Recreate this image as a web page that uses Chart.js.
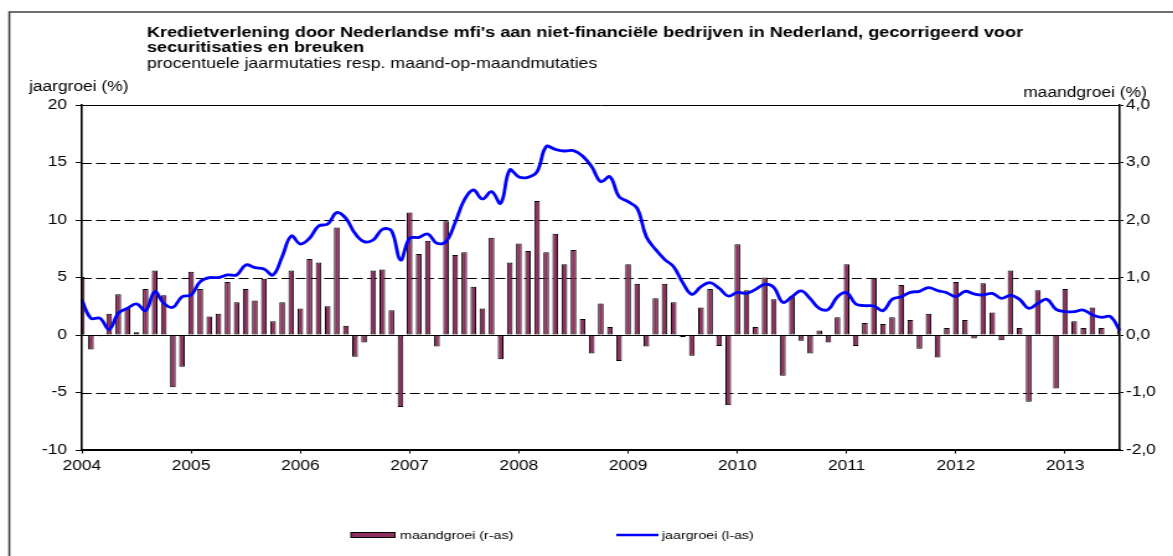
<!DOCTYPE html>
<html>
<head>
<meta charset="utf-8">
<script src="https://cdn.jsdelivr.net/npm/chart.js@4.4.0/dist/chart.umd.min.js"></script>
<style>
  html, body { margin: 0; padding: 0; background: #fff; overflow: hidden; }
  /* the reference picture is stretched horizontally, so the canvas is too */
  #wrap { position: absolute; left: 0; top: 0; width: 946px; height: 556px;
          transform: scaleX(1.24); transform-origin: 0 0; }
</style>
</head>
<body>
<div id="wrap"><canvas id="myChart" width="946" height="556"></canvas></div>
<script>
const titleLines = [
    "Kredietverlening door Nederlandse mfi's aan niet-financiële bedrijven in Nederland, gecorrigeerd voor",
    'securitisaties en breuken'
];
const subtitle = 'procentuele jaarmutaties resp. maand-op-maandmutaties';
const leftTitle = 'jaargroei (%)';
const rightTitle = 'maandgroei (%)';

// monthly categories, Jan 2004 .. Jul 2013
const startYear = 2004;
const months = Array.from({ length: 115 }, (_, i) =>
    (startYear + Math.floor(i / 12)) + '-' + String(i % 12 + 1).padStart(2, '0'));
const yearLabels = ['2004', '2005', '2006', '2007', '2008', '2009', '2010', '2011', '2012', '2013'];

// month-on-month growth (right axis)
const maandgroei = [
    1.01, -0.25, -0.02, 0.37, 0.71, 0.48, 0.05, 0.80, 1.12, 0.69, -0.91, -0.55,
    1.10, 0.80, 0.32, 0.37, 0.92, 0.57, 0.80, 0.60, 0.98, 0.24, 0.57, 1.12,
    0.46, 1.32, 1.26, 0.50, 1.87, 0.16, -0.38, -0.13, 1.12, 1.14, 0.43, -1.25,
    2.13, 1.41, 1.64, -0.20, 1.98, 1.39, 1.44, 0.84, 0.46, 1.69, -0.42, 1.26,
    1.59, 1.46, 2.33, 1.44, 1.76, 1.23, 1.48, 0.28, -0.32, 0.55, 0.14, -0.45,
    1.23, 0.89, -0.20, 0.64, 0.89, 0.57, -0.04, -0.36, 0.48, 0.80, -0.19, -1.22,
    1.58, 0.78, 0.14, 1.00, 0.62, -0.71, 0.67, -0.10, -0.32, 0.08, -0.13, 0.31,
    1.23, -0.19, 0.21, 0.99, 0.19, 0.31, 0.87, 0.26, -0.24, 0.37, -0.39, 0.12,
    0.92, 0.26, -0.06, 0.90, 0.39, -0.09, 1.12, 0.12, -1.16, 0.78, -0.02, -0.93,
    0.80, 0.24, 0.12, 0.48, 0.12, -0.02, 0.08
];

// year-on-year growth (left axis)
const jaargroei = [
    3.04, 1.45, 1.45, 0.49, 1.88, 2.32, 2.70, 2.12, 3.77, 2.75, 2.41, 3.33,
    3.48, 4.64, 4.99, 4.99, 5.22, 5.22, 6.09, 5.86, 5.74, 5.22, 6.81, 8.61,
    7.91, 8.41, 9.48, 9.65, 10.64, 10.14, 8.84, 8.12, 8.26, 9.19, 9.07, 6.52,
    8.41, 8.49, 8.78, 7.97, 8.12, 9.77, 11.74, 12.61, 11.83, 12.46, 11.45, 14.35,
    13.74, 13.71, 14.20, 16.38, 16.14, 16.00, 16.03, 15.57, 14.64, 13.33, 13.77, 12.03,
    11.59, 11.01, 8.55, 7.45, 6.58, 5.94, 4.55, 3.54, 4.20, 4.55, 4.06, 3.39,
    3.70, 3.62, 3.97, 4.41, 4.14, 2.84, 3.33, 3.83, 3.16, 2.32, 2.23, 3.33,
    3.68, 2.70, 2.55, 2.52, 2.12, 3.10, 3.33, 3.71, 3.80, 4.12, 3.86, 3.68,
    3.33, 3.80, 3.57, 3.48, 3.62, 3.19, 3.45, 3.10, 2.32, 2.75, 3.10, 2.23,
    2.03, 2.03, 2.17, 1.74, 1.54, 1.59, 0.38
];

const leftTicks = [-10, -5, 0, 5, 10, 15, 20];
const dashedAt = [-5, 5, 10, 15];

const barColor = '#8f2f5f';
const lineColor = '#0000ff';
const fontFamily = '"Liberation Sans", Arial, sans-serif';

Chart.defaults.font.family = fontFamily;
Chart.defaults.color = '#000';

const decorations = {
    id: 'decorations',
    beforeDraw(chart) {
        const ctx = chart.ctx;
        ctx.save();
        ctx.fillStyle = '#fff';
        ctx.fillRect(0, 0, chart.width, chart.height);
        ctx.restore();
    },
    beforeDatasetsDraw(chart) {
        const { ctx, chartArea: a, scales: { y } } = chart;
        ctx.save();
        ctx.strokeStyle = '#000';
        ctx.lineWidth = 1;
        ctx.setLineDash([8, 3.5]);
        dashedAt.forEach(v => {
            const py = Math.round(y.getPixelForValue(v)) + 0.5;
            ctx.beginPath();
            ctx.moveTo(a.left, py);
            ctx.lineTo(a.right, py);
            ctx.stroke();
        });
        ctx.setLineDash([]);
        [0, 20].forEach(v => {
            const py = Math.round(y.getPixelForValue(v)) + 0.5;
            ctx.beginPath();
            ctx.moveTo(a.left, py);
            ctx.lineTo(a.right, py);
            ctx.stroke();
        });
        ctx.restore();
    },
    afterDraw(chart) {
        const ctx = chart.ctx;
        ctx.save();
        ctx.fillStyle = '#000';
        ctx.textBaseline = 'alphabetic';
        ctx.font = 'bold 14.6px ' + fontFamily;
        ctx.fillText(titleLines[0], 118.5, 37);
        ctx.fillText(titleLines[1], 118.5, 51.5);
        ctx.font = '14.3px ' + fontFamily;
        ctx.fillText(subtitle, 118.5, 67.5);
        ctx.font = '14px ' + fontFamily;
        ctx.fillText(leftTitle, 23.4, 90.5);
        ctx.textAlign = 'right';
        ctx.fillText(rightTitle, 924.8, 96.5);

        // legend
        ctx.textAlign = 'left';
        ctx.textBaseline = 'middle';
        ctx.font = '11.5px ' + fontFamily;
        ctx.fillStyle = barColor;
        ctx.fillRect(283, 532.5, 35.5, 5);
        ctx.strokeStyle = '#000';
        ctx.lineWidth = 1;
        ctx.strokeRect(283, 532.5, 35.5, 5);
        ctx.fillStyle = '#000';
        ctx.fillText(chart.data.datasets[0].label, 322.6, 535.5);
        ctx.strokeStyle = lineColor;
        ctx.lineWidth = 2.5;
        ctx.beginPath();
        ctx.moveTo(497, 535);
        ctx.lineTo(531, 535);
        ctx.stroke();
        ctx.fillText(chart.data.datasets[1].label, 533.8, 535.5);

        // outer frame: only its left and top edges fall inside the picture
        ctx.strokeStyle = '#404040';
        ctx.lineWidth = 1.6;
        ctx.beginPath();
        ctx.moveTo(7.5, chart.height + 2);
        ctx.lineTo(7.5, 12);
        ctx.lineTo(chart.width + 2, 12);
        ctx.stroke();
        ctx.restore();
    }
};

new Chart(document.getElementById('myChart'), {
    type: 'bar',
    data: {
        labels: months,
        datasets: [
            {
                label: 'maandgroei (r-as)',
                data: maandgroei,
                yAxisID: 'y1',
                backgroundColor: barColor,
                borderColor: '#000',
                borderWidth: 1,
                borderSkipped: false,
                barPercentage: 0.62,
                categoryPercentage: 1,
                clip: 0,
                order: 1
            },
            {
                type: 'line',
                label: 'jaargroei (l-as)',
                data: jaargroei,
                yAxisID: 'y',
                borderColor: lineColor,
                borderWidth: 2.8,
                pointRadius: 0,
                tension: 0.4,
                fill: false,
                order: 0
            }
        ]
    },
    options: {
        responsive: false,
        animation: false,
        devicePixelRatio: 1,
        layout: { padding: { left: 0, right: 0, top: 105, bottom: 0 } },
        plugins: {
            legend: { display: false },
            title: { display: false },
            tooltip: { enabled: false }
        },
        scales: {
            x: {
                offset: false,
                grid: {
                    offset: false,
                    drawOnChartArea: false,
                    tickLength: 3.5,
                    color: (c) => (c.index % 12 === 0 ? '#000' : 'rgba(0,0,0,0)')
                },
                border: { color: '#000', width: 2, z: 1 },
                ticks: {
                    autoSkip: false,
                    maxRotation: 0,
                    minRotation: 0,
                    padding: 4,
                    font: { size: 14 },
                    callback: (v, i) => (i % 12 === 0 ? yearLabels[i / 12] : '')
                },
                afterFit: (s) => { s.height = 106; s.paddingLeft = 0; s.paddingRight = 0; }
            },
            y: {
                position: 'left',
                min: -10,
                max: 20,
                afterBuildTicks: (s) => { s.ticks = leftTicks.map(v => ({ value: v })); },
                grid: { drawOnChartArea: false, tickLength: 5, color: '#000' },
                border: { color: '#000', width: 1.6, z: 1 },
                ticks: { padding: 7, font: { size: 14 } },
                afterFit: (s) => { s.width = 66; s.paddingTop = 0; s.paddingBottom = 0; }
            },
            y1: {
                position: 'right',
                min: -2,
                max: 4,
                ticks: {
                    stepSize: 1,
                    padding: 2,
                    font: { size: 14 },
                    callback: (v) => v.toFixed(1).replace('.', ',')
                },
                grid: { drawOnChartArea: false, tickLength: 3, color: '#000' },
                border: { color: '#000', width: 1.6, z: 1 },
                afterFit: (s) => { s.width = 43; s.paddingTop = 0; s.paddingBottom = 0; }
            }
        }
    },
    plugins: [decorations]
});
</script>
</body>
</html>
